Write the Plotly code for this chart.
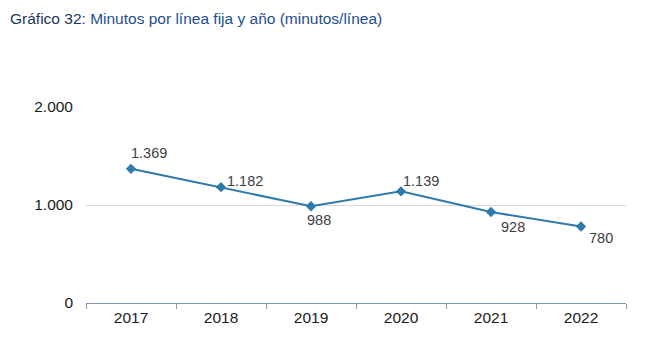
import plotly.graph_objects as go

years = ["2017", "2018", "2019", "2020", "2021", "2022"]
minutes = [1369, 1182, 988, 1139, 928, 780]
y_ticks = [0, 1000, 2000]
y_tick_labels = ["0", "1.000", "2.000"]

def fmt(v):
    return f"{v:,}".replace(",", ".")

# label offsets (px) relative to each point
offsets = [(18, 16), (24, 6), (8, -14), (20, 10), (22, -15), (20, -11)]

W, H = 638, 348
L, R, T, B = 78, 20, 99, 53
PW, PH = W - L - R, H - T - B

fig = go.Figure()
fig.add_trace(go.Scatter(
    x=years, y=minutes, mode="lines+markers",
    line=dict(color="#2E7BAA", width=2),
    marker=dict(symbol="diamond", size=8, color="#2E7BAA"),
    hoverinfo="skip", showlegend=False,
))

for i, (v, (dx, dy)) in enumerate(zip(minutes, offsets)):
    fig.add_annotation(x=i, y=v, text=fmt(v), showarrow=False,
                       xshift=dx, yshift=dy,
                       font=dict(family="Liberation Sans, Arial", size=14.5, color="#404040"))

fig.add_annotation(
    xref="paper", yref="paper", x=-L / PW, y=1 + (T - 10) / PH,
    xanchor="left", yanchor="middle", showarrow=False,
    text="<span style='color:#1B365D'>Gráfico 32:</span> <span style='color:#1F4E8C'>Minutos por línea fija y año (minutos/línea)</span>",
    font=dict(family="Liberation Sans, Arial", size=15.5),
)

fig.update_layout(
    width=W, height=H,
    margin=dict(l=L, r=R, t=T, b=B),
    paper_bgcolor="white", plot_bgcolor="white",
    separators=",.",
    xaxis=dict(
        type="category", range=[-0.5, 5.5], showgrid=False, showline=True,
        linecolor="#8497B0", linewidth=1,
        ticks="outside", tickson="boundaries", ticklen=5, tickcolor="#8497B0",
        tickfont=dict(family="Liberation Sans, Arial", size=15.5, color="#1a1a1a"),
        tickangle=0, fixedrange=True,
    ),
    yaxis=dict(
        range=[0, 2000], tickvals=y_ticks, ticktext=y_tick_labels,
        showgrid=True, gridcolor="#D9D9D9", gridwidth=1, zeroline=False, showline=False,
        ticks="", ticklabelstandoff=12,
        tickfont=dict(family="Liberation Sans, Arial", size=15.5, color="#1a1a1a"),
        fixedrange=True,
    ),
)

fig.write_html("out.html")
